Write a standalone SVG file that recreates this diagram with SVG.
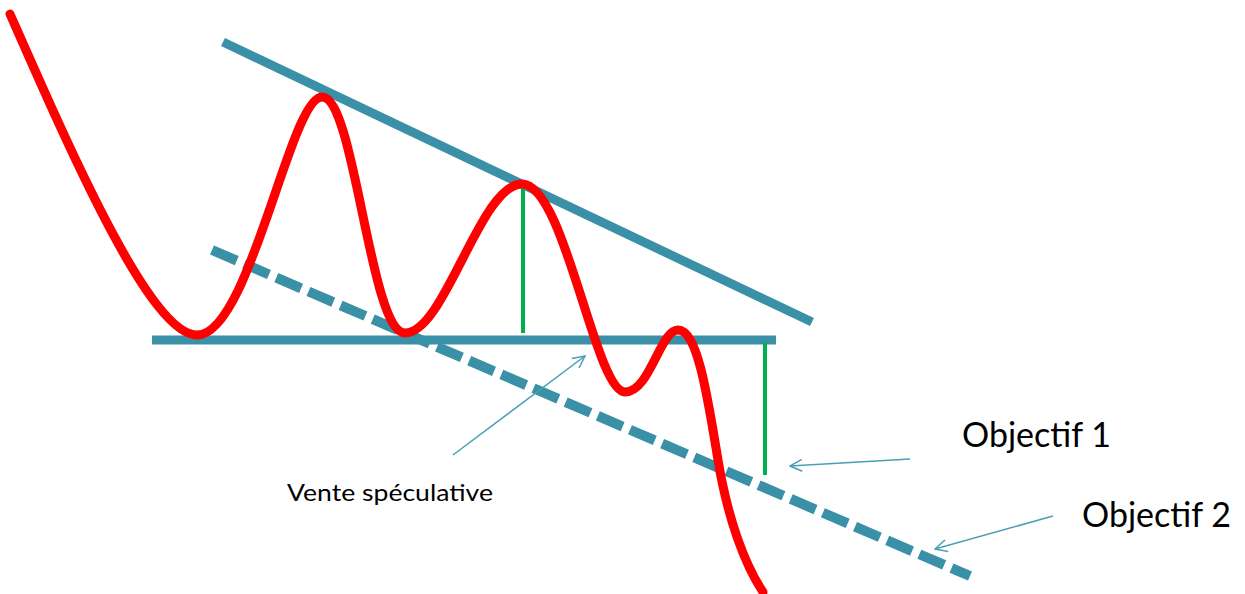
<svg xmlns="http://www.w3.org/2000/svg" width="1245" height="594" viewBox="0 0 1245 594">
<defs>
<style>
.trend{stroke:#3a90a6;stroke-width:9;fill:none}
.dash{stroke:#3a90a6;stroke-width:10;fill:none;stroke-dasharray:27 8}
.green{stroke:#00b050;stroke-width:4;fill:none}
.price{stroke:#ff0000;stroke-width:9;fill:none;stroke-linecap:round;stroke-linejoin:round}
.ptr{stroke:#4a9fb5;stroke-width:1.5;fill:none}
.lbl{font-family:Lato,"Open Sans","Liberation Sans",sans-serif;fill:#000}
</style>
<marker id="chev" viewBox="0 0 14 14" refX="13" refY="7" markerWidth="14" markerHeight="14" markerUnits="userSpaceOnUse" orient="auto">
<path d="M1,1 L13,7 L1,13" fill="none" stroke="#4a9fb5" stroke-width="1.5"/>
</marker>
</defs>
<rect width="1245" height="594" fill="#fff"/>
<g id="resistance"><line class="trend" x1="223" y1="42" x2="812" y2="322"/></g>
<g id="support"><line class="trend" x1="152" y1="340" x2="776" y2="340"/></g>
<g id="channel"><line class="dash" x1="212" y1="250" x2="970" y2="576"/></g>
<g id="heights">
<line class="green" x1="523" y1="186" x2="523" y2="333"/>
<line class="green" x1="765" y1="343" x2="765" y2="475"/>
</g>
<g id="price"><path class="price" d="M10,14 C70,150 150,335 197,335 C250,335 290,97 322,97 C355,97 370,333 405,333 C445,333 480,184 522,184 C565,184 595,392 625,392 C650,392 660,330 678,330 C698,330 708,400 718,460 S745,565 763,592"/></g>
<g id="connectors">
<line class="ptr" x1="453" y1="455" x2="585" y2="356" marker-end="url(#chev)"/>
<line class="ptr" x1="910" y1="459" x2="790" y2="466" marker-end="url(#chev)"/>
<line class="ptr" x1="1053" y1="516" x2="935" y2="549" marker-end="url(#chev)"/>
</g>
<g id="label-vente"><text class="lbl" x="287" y="501" font-size="24" textLength="206" lengthAdjust="spacingAndGlyphs">Vente spéculative</text></g>
<g id="label-obj1"><text class="lbl" x="962" y="447" font-size="34">Objectif 1</text></g>
<g id="label-obj2"><text class="lbl" x="1082" y="527" font-size="34">Objectif 2</text></g>
</svg>
